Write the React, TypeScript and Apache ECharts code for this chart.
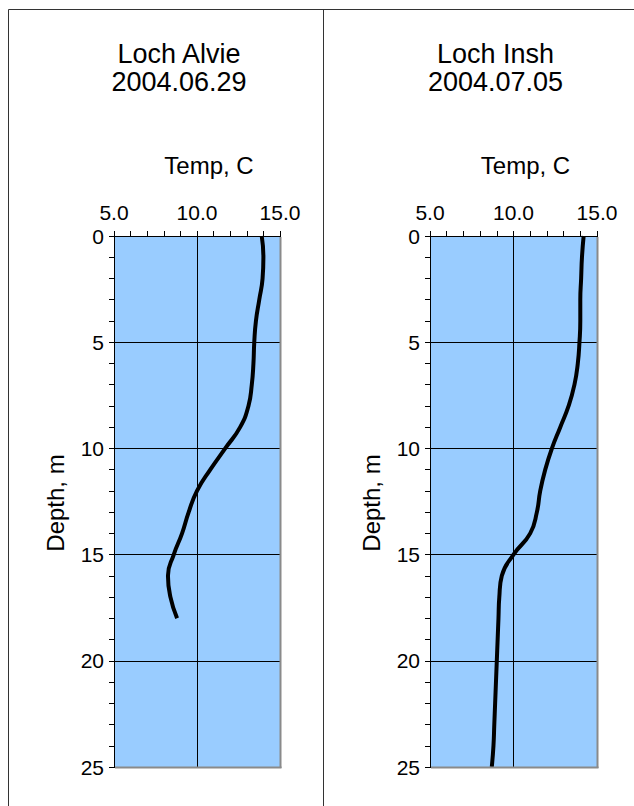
import React, { useEffect, useRef } from "react";
import * as echarts from "echarts";

const alvieDepth = [0, 1, 2, 3, 4, 5, 6, 7, 8, 9, 10, 11, 12, 13, 14, 15, 16, 17, 18];
const alvieTemp = [13.9, 14.0, 13.95, 13.75, 13.55, 13.45, 13.4, 13.3, 13.1, 12.6, 11.7, 10.8, 10.0, 9.5, 9.1, 8.6, 8.25, 8.4, 8.8];

const inshDepth = [0, 1, 2, 3, 4, 5, 6, 7, 8, 9, 10, 11, 12, 13, 14, 15, 16, 17, 18, 19, 20, 21, 22, 23, 24, 25];
const inshTemp = [14.2, 14.1, 14.05, 14.0, 14.0, 13.95, 13.85, 13.65, 13.3, 12.8, 12.3, 11.9, 11.6, 11.4, 11.0, 10.0, 9.3, 9.15, 9.1, 9.05, 9.0, 8.95, 8.9, 8.85, 8.8, 8.7];

const panelTitles = [["Loch Alvie", "2004.06.29"], ["Loch Insh", "2004.07.05"]];
const xName = "Temp, C";
const yName = "Depth, m";

const FONT = "Liberation Sans, Arial, sans-serif";

export default function App() {
  const ref = useRef<HTMLDivElement>(null);
  useEffect(() => {
    document.body.style.margin = "0";
    const chart = echarts.init(ref.current!, null, { renderer: "svg" });
    const grids = [
      { left: 114, top: 236, width: 166, height: 531 },
      { left: 430, top: 236, width: 167, height: 531 },
    ];
    const xAxes = grids.map((_, i) => ({
      type: "value",
      gridIndex: i,
      position: "top",
      min: 5,
      max: 15,
      interval: 5,
      axisLine: { show: true, lineStyle: { color: "#000", width: 1 } },
      axisTick: { show: true, inside: false, length: 5, lineStyle: { color: "#000" } },
      minorTick: { show: true, splitNumber: 5, length: 5, lineStyle: { color: "#000" } },
      axisLabel: { fontSize: 21, fontFamily: FONT, color: "#000", margin: 13, formatter: (v: number) => v.toFixed(1) },
      splitLine: { show: true, lineStyle: { color: "#000", width: 1 } },
    }));
    const yAxes = grids.map((_, i) => ({
      type: "value",
      gridIndex: i,
      inverse: true,
      min: 0,
      max: 25,
      interval: 5,
      axisLine: { show: true, lineStyle: { color: "#000", width: 1 } },
      axisTick: { show: true, inside: false, length: 5, lineStyle: { color: "#000" } },
      minorTick: { show: true, splitNumber: 5, length: 5, lineStyle: { color: "#000" } },
      axisLabel: { fontSize: 21, fontFamily: FONT, color: "#000", margin: 10 },
      splitLine: { show: true, lineStyle: { color: "#000", width: 1 } },
    }));
    const centers = [197, 513.5];
    const graphics: any[] = [
      { type: "line", z: 100, shape: { x1: 8.5, y1: 9.5, x2: 634, y2: 9.5 }, style: { stroke: "#333", lineWidth: 1 } },
      { type: "line", z: 100, shape: { x1: 8.5, y1: 9.5, x2: 8.5, y2: 806 }, style: { stroke: "#333", lineWidth: 1 } },
      { type: "line", z: 100, shape: { x1: 323.5, y1: 9.5, x2: 323.5, y2: 806 }, style: { stroke: "#333", lineWidth: 1 } },
    ];
    grids.forEach((g, i) => {
      const r = g.left + g.width;
      const b = g.top + g.height;
      graphics.push(
        { type: "line", z: 100, shape: { x1: r + 0.5, y1: g.top + 1, x2: r + 0.5, y2: b + 1 }, style: { stroke: "#8a8a8a", lineWidth: 2 } },
        { type: "line", z: 100, shape: { x1: g.left + 1, y1: b + 0.5, x2: r + 1.5, y2: b + 0.5 }, style: { stroke: "#8a8a8a", lineWidth: 2 } },
        { type: "text", z: 100, x: centers[i] - 18, y: 54, style: { text: panelTitles[i][0], fontSize: 27, fontFamily: FONT, fill: "#000", align: "center", verticalAlign: "middle" } },
        { type: "text", z: 100, x: centers[i] - 18, y: 82, style: { text: panelTitles[i][1], fontSize: 27, fontFamily: FONT, fill: "#000", align: "center", verticalAlign: "middle" } },
        { type: "text", z: 100, x: centers[i] + 12, y: 165, style: { text: xName, fontSize: 24, fontFamily: FONT, fill: "#000", align: "center", verticalAlign: "middle" } },
        { type: "text", z: 100, x: g.left - 59, y: 503, rotation: Math.PI / 2, style: { text: yName, fontSize: 24, fontFamily: FONT, fill: "#000", align: "center", verticalAlign: "middle" } }
      );
    });
    chart.setOption({
      animation: false,
      backgroundColor: "#fff",
      grid: grids.map((g) => ({ ...g, show: true, backgroundColor: "#99CCFF", borderWidth: 0 })),
      xAxis: xAxes,
      yAxis: yAxes,
      series: [
        {
          type: "line",
          xAxisIndex: 0,
          yAxisIndex: 0,
          smooth: 0.5,
          showSymbol: false,
          lineStyle: { color: "#000", width: 4 },
          data: alvieDepth.map((d, k) => [alvieTemp[k], d]),
        },
        {
          type: "line",
          xAxisIndex: 1,
          yAxisIndex: 1,
          smooth: 0.5,
          showSymbol: false,
          lineStyle: { color: "#000", width: 4 },
          data: inshDepth.map((d, k) => [inshTemp[k], d]),
        },
      ],
      graphic: graphics,
    });
    return () => chart.dispose();
  }, []);
  return <div ref={ref} style={{ width: 634, height: 806 }} />;
}
